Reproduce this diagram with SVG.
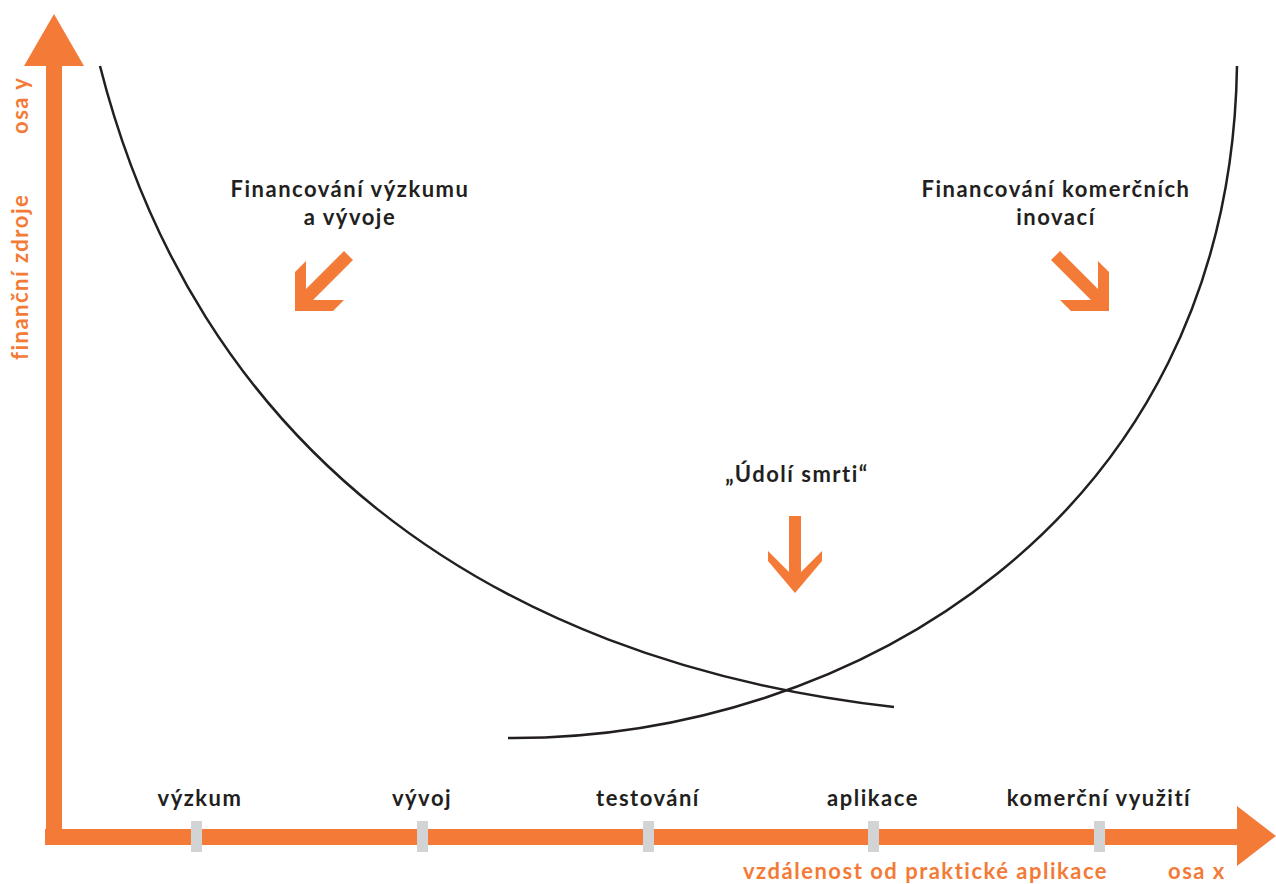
<svg xmlns="http://www.w3.org/2000/svg" width="1276" height="884" viewBox="0 0 1276 884">
<style>
.o{fill:#f37b37}
.tk{fill:#d1d3d4}
.t{font-family:Lato,"Open Sans","Liberation Sans",sans-serif;font-weight:700;font-size:22px;letter-spacing:1.5px;fill:#231f20;text-anchor:middle}
.ot{font-family:Lato,"Open Sans","Liberation Sans",sans-serif;font-weight:700;font-size:22px;letter-spacing:1.5px;fill:#f37b37}
.c{fill:none;stroke:#231f20;stroke-width:2.5}
</style>
<rect width="1276" height="884" fill="#fff"/>
<g id="axes">
<rect class="o" x="46" y="60" width="16" height="785"/>
<polygon class="o" points="24,66 84,66 54,14"/>
<rect class="o" x="45" y="829" width="1196" height="16"/>
<polygon class="o" points="1237,806 1237,866 1276,836"/>
<text class="ot" transform="translate(28,134) rotate(-90)">osa y</text>
<text class="ot" transform="translate(28,360) rotate(-90)">finanční zdroje</text>
<text class="ot" x="743" y="879">vzdálenost od praktické aplikace</text>
<text class="ot" x="1168" y="879">osa x</text>
</g>
<g id="connectors">
<path class="c" d="M100,66 C195,440 480,660 894,707"/>
<path class="c" d="M508,738 C850,740 1230,520 1237,66"/>
</g>
<g id="node-vyzkum-vyvoj">
<text class="t" x="350" y="197">Financování výzkumu</text>
<text class="t" x="350" y="225">a vývoje</text>
<polygon class="o" points="295,311 295,272 306,261 306,289 344,251 353,260 313,300 344,300 333,311"/>
</g>
<g id="node-komercni">
<text class="t" x="1056" y="197">Financování komerčních</text>
<text class="t" x="1056" y="225">inovací</text>
<polygon class="o" points="1109,311 1109,272 1098,261 1098,289 1060,251 1051,260 1091,300 1060,300 1071,311"/>
</g>
<g id="node-udoli">
<text class="t" x="797" y="482">„Údolí smrti“</text>
<polygon class="o" points="789,516 801,516 801,572 822,551 822,561 795,593 768,561 768,551 789,572"/>
</g>
<g id="ticks">
<rect class="tk" x="191" y="821" width="11" height="31"/>
<rect class="tk" x="417" y="821" width="11" height="31"/>
<rect class="tk" x="643" y="821" width="11" height="31"/>
<rect class="tk" x="868" y="821" width="11" height="31"/>
<rect class="tk" x="1094" y="821" width="11" height="31"/>
<text class="t" x="200" y="806">výzkum</text>
<text class="t" x="422" y="806">vývoj</text>
<text class="t" x="648" y="806">testování</text>
<text class="t" x="873" y="806">aplikace</text>
<text class="t" x="1099" y="806">komerční využití</text>
</g>
</svg>
